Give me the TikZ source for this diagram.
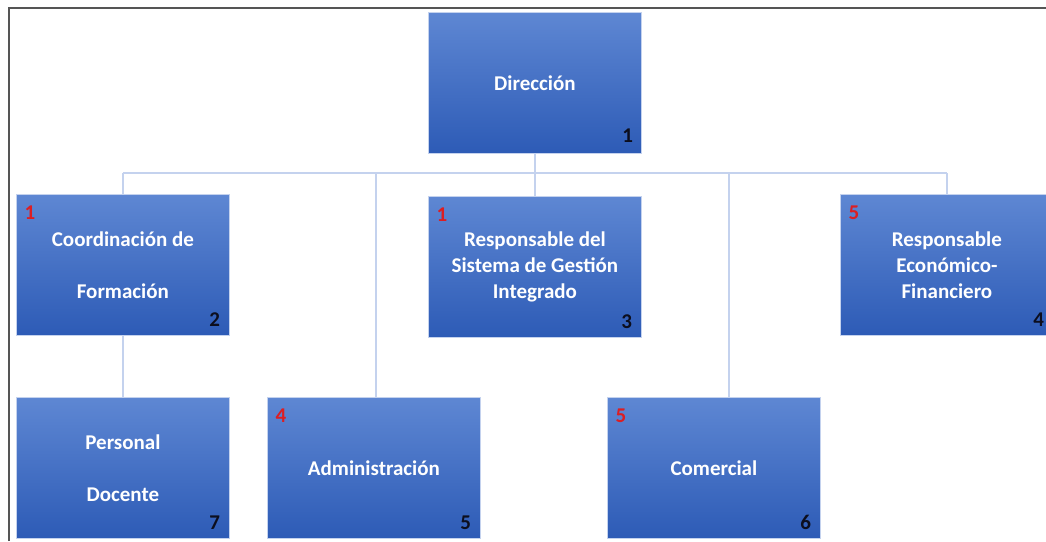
\documentclass[tikz,border=0pt]{standalone}
\usepackage{fontspec}
\setmainfont{Carlito}
\usetikzlibrary{calc}
\definecolor{boxtop}{RGB}{94,135,211}
\definecolor{boxbot}{RGB}{45,91,182}
\definecolor{boxedge}{RGB}{196,210,238}
\definecolor{linkcol}{RGB}{196,210,238}
\definecolor{framecol}{RGB}{85,85,85}
\definecolor{redno}{RGB}{220,30,35}
\definecolor{darkno}{RGB}{12,14,30}
\tikzset{
  unitbox/.style={rectangle, anchor=north west, minimum width=213pt, minimum height=141pt,
    top color=boxtop, bottom color=boxbot, draw=boxedge, line width=0.8pt,
    text=white, align=center, inner sep=0pt,
    font=\fontsize{21}{26}\selectfont\bfseries},
  link/.style={draw=linkcol, line width=1.4pt},
  redtag/.style={text=redno, font=\fontsize{21}{22}\selectfont\bfseries, inner sep=0pt},
  darktag/.style={text=darkno, font=\fontsize{21}{22}\selectfont\bfseries, inner sep=0pt},
  frameline/.style={draw=framecol, line width=2.2pt}
}
\begin{document}
\begin{tikzpicture}[x=1pt, y=-1pt]
\useasboundingbox (0,0) rectangle (1046,541);
\clip (0,0) rectangle (1046,541);
\fill[white] (0,0) rectangle (1046,541);

% outer frame (top and left edges)
\coordinate (fa) at (9,541);
\coordinate (fb) at (9,8);
\coordinate (fc) at (1046,8);
\draw[frameline] (fa) -- (fb) -- (fc);

% boxes
\node[unitbox] (dir) at (428,12) {Dirección};
\node[unitbox] (coord) at (16,194) {Coordinación de\\[26pt]Formación};
\node[unitbox] (sgi) at (428,196) {Responsable del\\Sistema de Gestión\\Integrado};
\node[unitbox] (eco) at (840,194) {Responsable\\Económico-\\Financiero};
\node[unitbox] (doc) at (16,397) {Personal\\[26pt]Docente};
\node[unitbox] (adm) at (267,397) {Administración};
\node[unitbox] (com) at (607,397) {Comercial};

% connectors
\coordinate (bus) at (0,173);
\coordinate (admtap) at (376,173);
\coordinate (comtap) at (729,173);
\draw[link] (dir.south) -- (dir.south |- bus);
\draw[link] (coord.north |- bus) -- (eco.north |- bus);
\draw[link] (coord.north |- bus) -- (coord.north);
\draw[link] (sgi.north |- bus) -- (sgi.north);
\draw[link] (eco.north |- bus) -- (eco.north);
\draw[link] (admtap) -- (admtap |- adm.north);
\draw[link] (comtap) -- (comtap |- com.north);
\draw[link] (coord.south) -- (doc.north);

% level tags
\node[darktag] (n1) at ($(dir.south east)+(-14,-18)$) {1};
\node[darktag] (n2) at ($(coord.south east)+(-15,-16)$) {2};
\node[darktag] (n3) at ($(sgi.south east)+(-15,-16)$) {3};
\node[darktag] (n4) at ($(eco.south east)+(-15,-16)$) {4};
\node[darktag] (n5) at ($(adm.south east)+(-15,-16)$) {5};
\node[darktag] (n6) at ($(com.south east)+(-15,-16)$) {6};
\node[darktag] (n7) at ($(doc.south east)+(-15,-16)$) {7};

\node[redtag] (r1) at ($(coord.north west)+(14,19)$) {1};
\node[redtag] (r2) at ($(sgi.north west)+(14,19)$) {1};
\node[redtag] (r3) at ($(eco.north west)+(14,19)$) {5};
\node[redtag] (r4) at ($(adm.north west)+(14,19)$) {4};
\node[redtag] (r5) at ($(com.north west)+(14,19)$) {5};
\end{tikzpicture}
\end{document}
